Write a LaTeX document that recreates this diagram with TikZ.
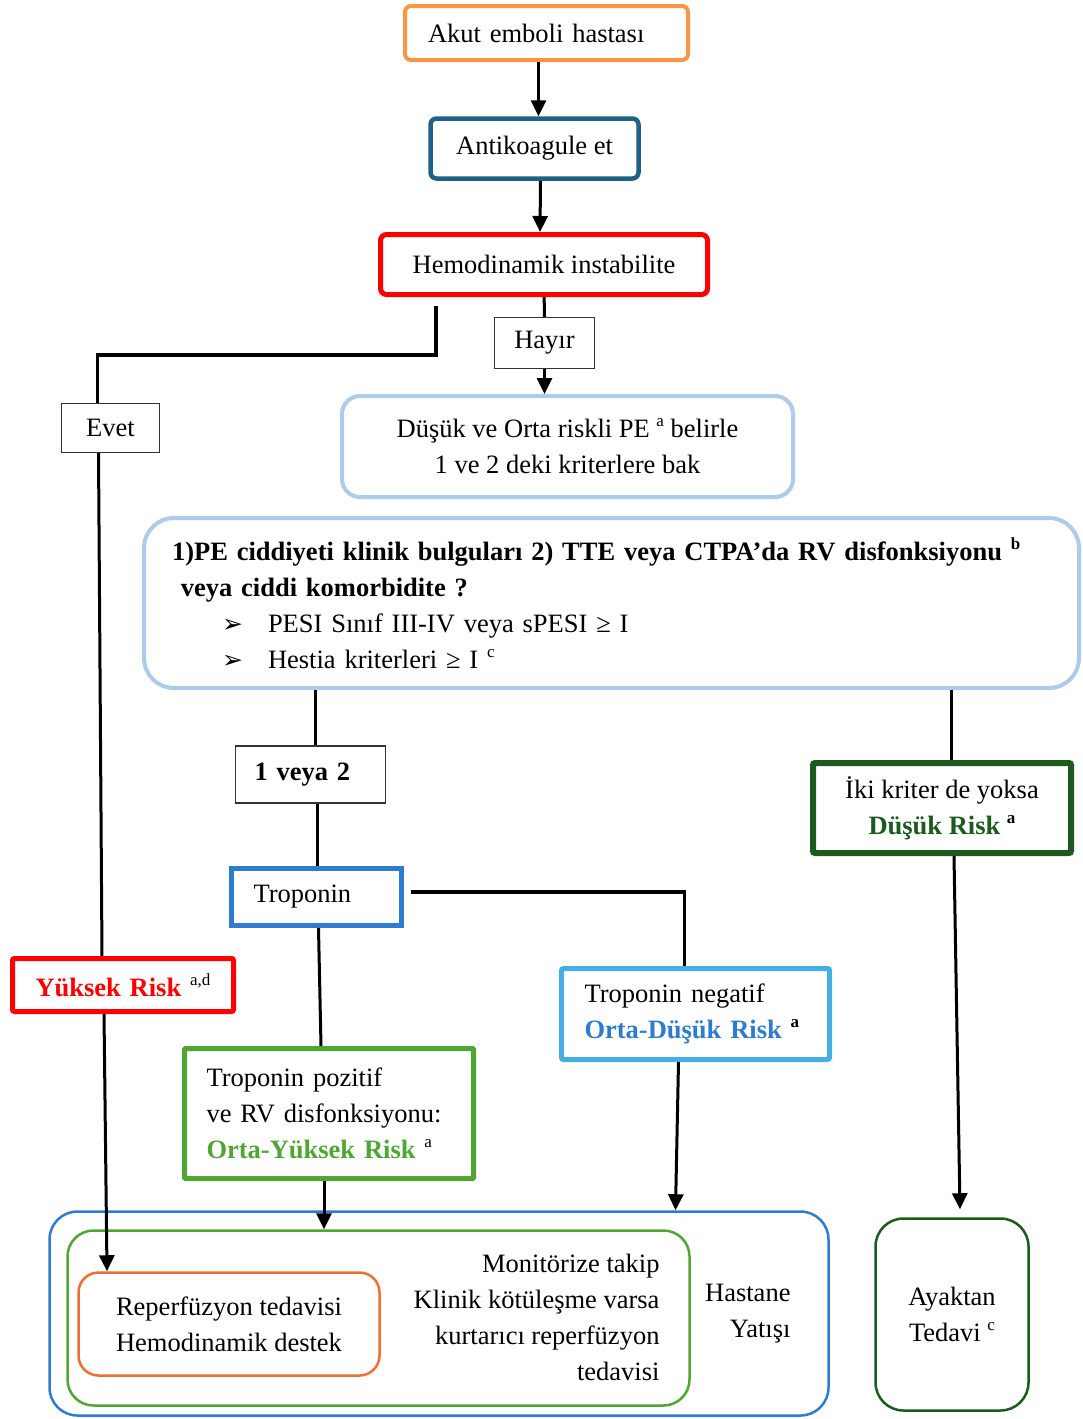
\documentclass[tikz,border=0pt]{standalone}
\usepackage{fontspec}
\setmainfont{Liberation Serif}
\newfontfamily\dingfont{DejaVu Sans}
\usetikzlibrary{positioning, arrows.meta}

\definecolor{akutorange}{HTML}{F79646}
\definecolor{antiblue}{HTML}{1F6184}
\definecolor{riskred}{HTML}{FF0000}
\definecolor{paleblue}{HTML}{ADCBEC}
\definecolor{tropblue}{HTML}{2E7CD0}
\definecolor{skyblue}{HTML}{46AEE3}
\definecolor{midgreen}{HTML}{51A535}
\definecolor{darkgreen}{HTML}{1C5A1E}
\definecolor{reporange}{HTML}{EC7031}

\newcommand{\sups}[1]{\raisebox{0.42em}{\fontsize{17}{17}\selectfont #1}}
\newcommand{\bull}{\makebox[46pt][l]{\dingfont\fontsize{25}{25}\selectfont ➢}}

\begin{document}
\begin{tikzpicture}[x=1pt, y=-1pt, ->, >={Triangle[length=16pt,width=15pt]}, line width=3pt,
        font=\fontsize{26.5}{36}\selectfont,
        box/.style={draw, fill=white, rounded corners=6pt, line width=4.5pt, inner sep=0pt, align=center},
        tag/.style={draw=black!80, fill=white, line width=1.3pt, inner sep=0pt},
        frame/.style={draw, rounded corners=28pt, line width=2.5pt, inner sep=0pt, align=center}]

        \useasboundingbox (0,0) rectangle (1083,1419);

        \node[frame, draw=tropblue, minimum width=779pt, minimum height=204pt]      (13) at (439,1313.5) {};
        \node[frame, draw=midgreen, rounded corners=26pt,
              minimum width=622pt, minimum height=175pt]                           (14) at (378.5,1318) {};
        \node[frame, draw=reporange, rounded corners=20pt,
              minimum width=301pt, minimum height=103pt]                           (15) at (229,1324) {Reperfüzyon tedavisi\\Hemodinamik destek};
        \node[frame, draw=darkgreen, minimum width=153pt, minimum height=192pt]    (16) at (952,1314.5) {Ayaktan\\Tedavi \sups{c}};
        \node[anchor=east, align=right, inner sep=0pt]                              (17) at (661,1317)
              {Monitörize takip\\Klinik kötüleşme varsa\\kurtarıcı reperfüzyon\\tedavisi};
        \node[anchor=east, align=right, inner sep=0pt]                              (18) at (792,1314) {Hastane\\Yatışı};

        \node[box, draw=akutorange, line width=4pt, minimum height=54pt,
              text width=237pt, inner xsep=23pt, align=left]                        (0) at (546.5,33) {Akut emboli hastası};
        \node[box, draw=antiblue, minimum width=208pt, minimum height=60pt]        (1) at (534.5,148.5) {Antikoagule et};
        \node[box, draw=riskred, line width=5pt, minimum width=327pt,
              minimum height=60pt]                                                 (2) at (544,264.5) {Hemodinamik instabilite};
        \node[tag, minimum width=100pt, minimum height=51pt]                       (3) at (544.5,343) {Hayır};
        \node[tag, minimum width=98pt, minimum height=49pt]                        (4) at (110.5,428) {Evet};
        \node[box, draw=paleblue, line width=4pt, rounded corners=18pt,
              minimum width=451pt, minimum height=101pt]                           (5) at (567.5,446.5)
              {Düşük ve Orta riskli PE \sups{a} belirle\\1 ve 2 deki kriterlere bak};
        \node[box, draw=paleblue, line width=4pt, rounded corners=30pt,
              minimum height=170pt, text width=879pt, inner xsep=28pt, align=left] (6) at (611.5,603)
              {{\bfseries 1)PE ciddiyeti klinik bulguları 2) TTE veya CTPA’da RV disfonksiyonu \sups{b}}\\
               {\bfseries\ veya ciddi komorbidite ?}\\
               \hspace*{50pt}\bull PESI Sınıf III-IV veya sPESI ≥ I\\
               \hspace*{50pt}\bull Hestia kriterleri ≥ I \sups{c}};
        \node[tag, minimum height=57pt, text width=112pt, inner xsep=19pt,
              align=left]                                                          (7) at (310.5,774.5) {\bfseries 1 veya 2};
        \node[box, draw=tropblue, line width=5pt, rounded corners=0pt, minimum height=57pt,
              text width=126pt, inner xsep=22pt, align=left]                        (8) at (316.5,897) {Troponin};
        \node[box, draw=riskred, line width=5pt, rounded corners=2pt, minimum height=53pt,
              text width=175pt, inner xsep=23pt, align=left]                        (9) at (123,985)
              {{\bfseries\color{riskred}Yüksek Risk} \sups{a,d}};
        \node[box, draw=skyblue, line width=5pt, rounded corners=2pt, minimum height=91pt,
              text width=222pt, inner xsep=23pt, align=left]                        (10) at (695.5,1014)
              {Troponin negatif\\{\bfseries\color{tropblue}Orta-Düşük Risk} {\bfseries\sups{a}}};
        \node[box, draw=midgreen, line width=5pt, rounded corners=1pt, minimum height=130pt,
              text width=245pt, inner xsep=22pt, align=left]                        (11) at (329,1113.5)
              {Troponin pozitif\\ve RV disfonksiyonu:\\{\bfseries\color{midgreen}Orta-Yüksek Risk} \sups{a}};
        \node[box, draw=darkgreen, line width=6pt, rounded corners=2pt,
              minimum width=258pt, minimum height=90pt]                            (12) at (942,808)
              {İki kriter de yoksa\\{\bfseries\color{darkgreen}Düşük Risk} {\bfseries\sups{a}}};

        \draw   ([xshift=-8pt]0.south)   -- ([xshift=4pt]1.north);
        \draw   ([xshift=6pt]1.south)    -- ([xshift=-4pt]2.north);
        \draw[-] (2) -- (3);
        \draw   (3.south) -- (3.south |- 5.north);
        \draw[-, line width=3.5pt] ([xshift=-108pt,yshift=-9pt]2.south) -- ++(0,49) -| ([xshift=-13pt]4.north);
        \draw[-] ([xshift=-12pt]4.south) -- ([xshift=-21pt]9.north);
        \draw   ([xshift=-19pt]9.south) -- ([xshift=-122pt]15.north);
        \draw[-] ([xshift=5pt]7.north |- 6.south) -- ([xshift=5pt]7.north);
        \draw[-] ([xshift=7pt]7.south) -- ([xshift=1pt]8.north);
        \draw[-] ([xshift=2pt]8.south) -- ([xshift=-8pt]11.north);
        \draw[-, line width=3.5pt] ([xshift=7pt,yshift=5pt]8.east) -| ([xshift=-11pt]10.north);
        \draw[-] ([xshift=9pt]12.north |- 6.south) -- ([xshift=9pt]12.north);
        \draw   ([xshift=12pt]12.south) -- ([xshift=8pt,yshift=8pt]16.north);
        \draw   ([xshift=-5pt]11.south) -- ([xshift=-5pt]11.south |- 14.north);
        \draw   ([xshift=-17pt]10.south) -- ([xshift=-20pt]10.south |- 13.north);

    \end{tikzpicture}
\end{document}
